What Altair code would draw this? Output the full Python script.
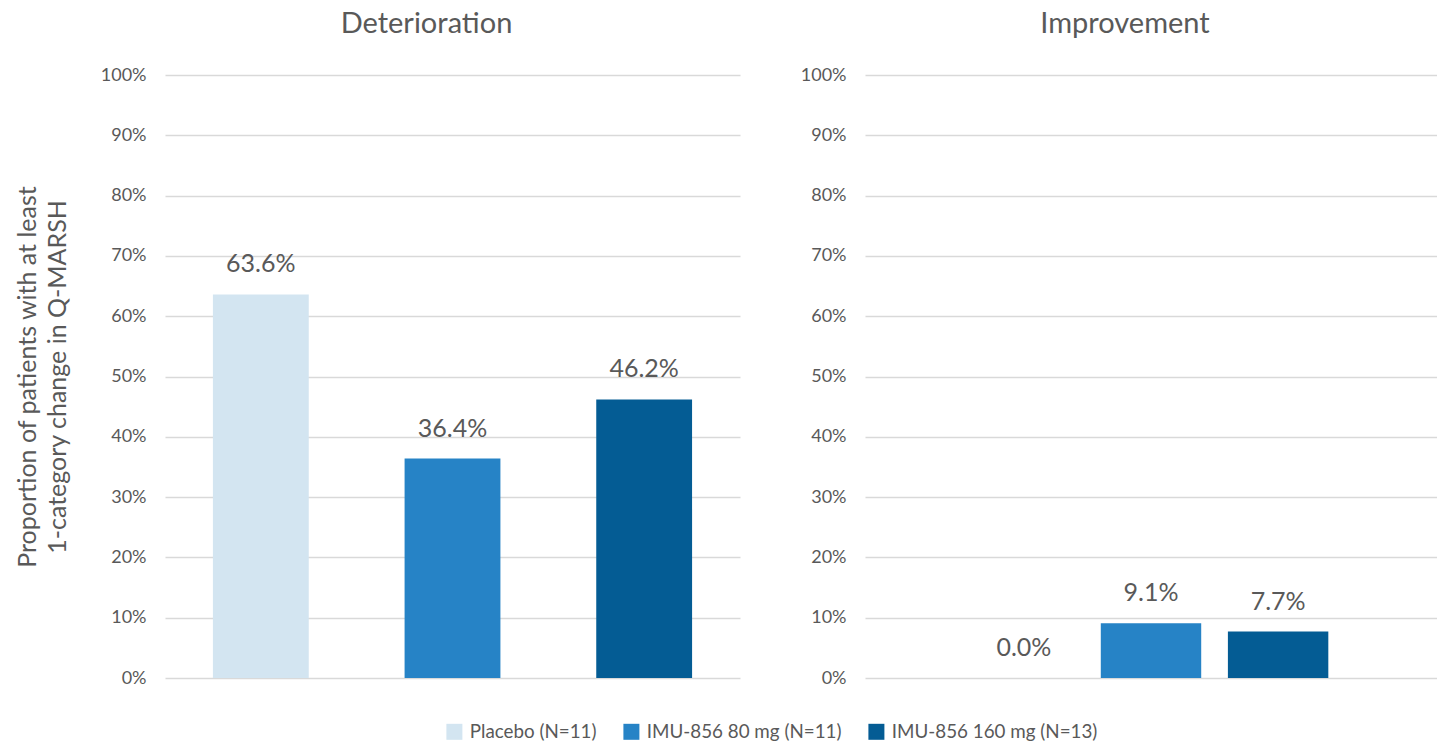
import altair as alt
import pandas as pd

panels = ["Deterioration", "Improvement"]
groups = ["Placebo (N=11)", "IMU-856 80 mg (N=11)", "IMU-856 160 mg (N=13)"]
deterioration = [0.636, 0.364, 0.462]
improvement = [0.000, 0.091, 0.077]
colors = ["#D3E5F1", "#2683C6", "#045C94"]
y_ticks = [i / 10 for i in range(11)]

FONT = "Lato"
GREY = "#595959"

df = pd.DataFrame(
    [{"panel": panels[0], "group": g, "value": v} for g, v in zip(groups, deterioration)]
    + [{"panel": panels[1], "group": g, "value": v} for g, v in zip(groups, improvement)]
)


def panel_chart(name, width, pad_inner, pad_outer, show_title):
    base = alt.Chart(df).transform_filter(alt.datum.panel == name)
    x = alt.X("group:N", sort=groups, axis=None,
              scale=alt.Scale(domain=groups, paddingInner=pad_inner, paddingOuter=pad_outer))
    axis_kwargs = dict(
        values=y_ticks, format=".0%", tickSize=0, domain=False, labelPadding=19,
        labelFontSize=18, labelColor=GREY, labelFont=FONT,
        gridColor="#D9D9D9", gridWidth=1.5,
    )
    if show_title:
        axis_kwargs.update(
            title=["Proportion of patients with at least", "1-category change in Q-MARSH"],
            titleFontSize=25, titleColor=GREY, titleFont=FONT, titleFontWeight="normal",
            titlePadding=30, titleLineHeight=30,
        )
    else:
        axis_kwargs.update(title=None)
    y = alt.Y("value:Q", scale=alt.Scale(domain=[0, 1]), axis=alt.Axis(**axis_kwargs))
    bars = base.mark_bar().encode(
        x=x, y=y,
        color=alt.Color("group:N", sort=groups,
                        scale=alt.Scale(domain=groups, range=colors),
                        legend=alt.Legend(title=None, orient="none", direction="horizontal",
                                          legendX=280, legendY=647,
                                          symbolType="square", symbolSize=256,
                                          symbolStrokeWidth=0, labelLimit=0,
                                          labelFontSize=18.8, labelColor=GREY, labelFont=FONT,
                                          columnPadding=25, labelOffset=6)),
    )
    labels = base.mark_text(dy=-30, baseline="middle", fontSize=25, color=GREY, font=FONT).encode(
        x=x, y=alt.Y("value:Q"), text=alt.Text("value:Q", format=".1%")
    )
    return alt.layer(bars, labels).properties(
        width=width, height=603,
        title=alt.Title(name, fontSize=29, color=GREY, font=FONT, fontWeight="normal",
                        offset=27, dx=-26),
    )


left = panel_chart("Deterioration", 575, 0.5, 0.25, True)
right = panel_chart("Improvement", 572, 0.21, 0.855, False)

chart = alt.hconcat(left, right, spacing=60).properties(
    padding={"left": 15, "top": 10, "right": 0, "bottom": 0},
    background="white",
).configure_view(stroke=None)

chart.save("out.html", embed_options={"renderer": "svg", "actions": False})
